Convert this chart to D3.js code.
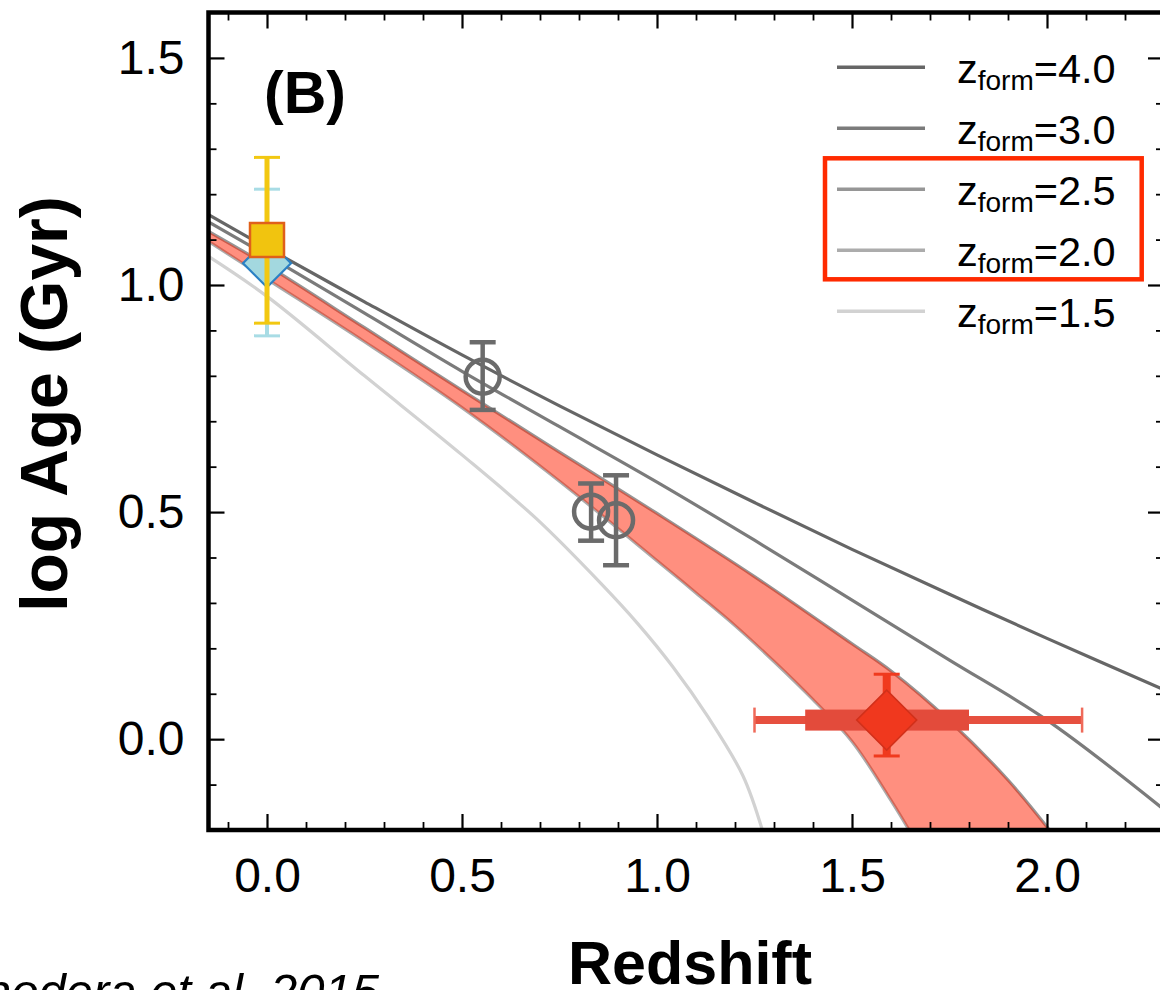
<!DOCTYPE html>
<html><head><meta charset="utf-8">
<script src="https://cdn.jsdelivr.net/npm/d3@7"></script>
<style>body{margin:0;background:#fff;} svg{display:block;font-family:"Liberation Sans",Arial,Helvetica,sans-serif;}</style>
</head><body><svg id="c" width="1160" height="990"></svg>
<script>
// ---------- data ----------
const zformLabels = ["4.0", "3.0", "2.5", "2.0", "1.5"];
const curveZ40 = [[-0.15,1.155],[0,1.082],[0.25,0.963],[0.5,0.846],[0.75,0.734],[1.0,0.626],[1.25,0.521],[1.5,0.418],[1.75,0.319],[2.0,0.222],[2.3,0.109]];
const curveZ30 = [[-0.15,1.139],[0,1.065],[0.25,0.938],[0.5,0.81],[0.75,0.688],[1.0,0.566],[1.25,0.438],[1.5,0.306],[1.75,0.174],[2.0,0.042],[2.3,-0.155]];
const curveZ25 = [[-0.15,1.118],[0,1.043],[0.25,0.906],[0.5,0.768],[0.75,0.632],[1.0,0.497],[1.25,0.358],[1.5,0.21],[1.6,0.15],[1.75,0.04],[1.9,-0.09],[2.02,-0.215]];
const curveZ20 = [[-0.15,1.096],[0,1.013],[0.25,0.875],[0.5,0.73],[0.75,0.568],[1.0,0.393],[1.1,0.322],[1.2,0.25],[1.3,0.171],[1.4,0.087],[1.5,-0.005],[1.6,-0.135],[1.66,-0.22]];
const curveZ15 = [[-0.15,1.063],[0,0.975],[0.25,0.80],[0.5,0.626],[0.69,0.486],[0.856,0.343],[0.95,0.255],[1.04,0.16],[1.13,0.05],[1.22,-0.08],[1.27,-0.2]];

const grayZ = [0.553, 0.831, 0.895];
const grayAge = [0.798, 0.501, 0.482];
const grayLo = [0.725, 0.437, 0.383];
const grayHi = [0.874, 0.563, 0.581];

const squarePt = {z: 0.0, age: 1.099, lo: 0.916, hi: 1.281};
const cyanPt = {z: 0.0, age: 1.048, lo: 0.888, hi: 1.211};
const redPt = {z: 1.589, age: 0.042, lo: -0.037, hi: 0.143, zlo: 1.25, zhi: 2.09, zlo2: 1.38, zhi2: 1.80};

const xMajor = [0.0, 0.5, 1.0, 1.5, 2.0];
const yMajor = [0.0, 0.5, 1.0, 1.5];

// ---------- setup ----------
const svg = d3.select("#c");
const x = d3.scaleLinear().domain([-0.15, 2.3]).range([208.5, 1164]);
const y = d3.scaleLinear().domain([-0.2, 1.6]).range([830, 12.5]);
const lineColors = ["#666666", "#7b7b7b", "#969696", "#acacac", "#d2d2d2"];
const curves = [curveZ40, curveZ30, curveZ25, curveZ20, curveZ15];

svg.append("defs").append("clipPath").attr("id", "clip")
  .append("rect").attr("x", x(-0.15)).attr("y", y(1.6))
  .attr("width", x(2.3) - x(-0.15)).attr("height", y(-0.2) - y(1.6));

const plot = svg.append("g");
const clipped = plot.append("g").attr("clip-path", "url(#clip)");
const line = d3.line().x(d => x(d[0])).y(d => y(d[1])).curve(d3.curveCatmullRom.alpha(0.5));

// model lines
curves.forEach((c, i) => {
  clipped.append("path").attr("d", line(c)).attr("fill", "none")
    .attr("stroke", lineColors[i]).attr("stroke-width", 3.2);
});

function errV(g, zx, lo, hi, color, w, capW, capT) {
  g.append("line").attr("x1", x(zx)).attr("x2", x(zx)).attr("y1", y(lo)).attr("y2", y(hi))
    .attr("stroke", color).attr("stroke-width", w);
  [lo, hi].forEach(v => g.append("line").attr("x1", x(zx) - capW / 2).attr("x2", x(zx) + capW / 2)
    .attr("y1", y(v)).attr("y2", y(v)).attr("stroke", color).attr("stroke-width", capT));
}

// gray circles
grayZ.forEach((z, i) => {
  errV(plot, z, grayLo[i], grayHi[i], "#6b6b6b", 4.5, 26, 4.5);
  plot.append("circle").attr("cx", x(z)).attr("cy", y(grayAge[i])).attr("r", 17)
    .attr("fill", "none").attr("stroke", "#6b6b6b").attr("stroke-width", 4.5);
});

// cyan diamond
errV(plot, cyanPt.z, cyanPt.lo, cyanPt.hi, "#a8dce5", 4, 26, 3);
plot.append("path").attr("d", d3.symbol(d3.symbolSquare, 1156)())
  .attr("transform", `translate(${x(cyanPt.z)},${y(cyanPt.age)}) rotate(45)`)
  .attr("fill", "#a3d8df").attr("stroke", "#2a80c4").attr("stroke-width", 2.2);

// red point: horizontal bars (under band)
const rg = plot.append("g");
rg.append("line").attr("x1", x(redPt.zlo)).attr("x2", x(redPt.zhi)).attr("y1", y(redPt.age)).attr("y2", y(redPt.age))
  .attr("stroke", "#e6503f").attr("stroke-width", 8);
[redPt.zlo, redPt.zhi].forEach(v => rg.append("line").attr("x1", x(v)).attr("x2", x(v))
  .attr("y1", y(redPt.age) - 12.5).attr("y2", y(redPt.age) + 12.5).attr("stroke", "#ef6a5a").attr("stroke-width", 2.5));
rg.append("rect").attr("x", x(redPt.zlo2)).attr("y", y(redPt.age) - 10.5)
  .attr("width", x(redPt.zhi2) - x(redPt.zlo2)).attr("height", 21).attr("fill", "#e34b3b");

// band between zform=2.5 and zform=2.0
const upper = line(curveZ25);
const lower = line(curveZ20.slice().reverse());
clipped.append("path").attr("d", upper + "L" + lower.slice(1) + "Z")
  .attr("fill", "rgba(255,31,0,0.5)").attr("stroke", "none");

// red point: vertical bar and diamond
const rg2 = plot.append("g");
errV(rg2, redPt.z, redPt.lo, redPt.hi, "#f03a1e", 8, 26, 3);
rg2.append("path").attr("d", d3.symbol(d3.symbolSquare, 1800)())
  .attr("transform", `translate(${x(redPt.z)},${y(redPt.age)}) rotate(45)`)
  .attr("fill", "#f0381e").attr("stroke", "#d2301a").attr("stroke-width", 1.6);

// yellow square
errV(plot, squarePt.z, squarePt.lo, squarePt.hi, "#f2c811", 5, 26, 3);
plot.append("path").attr("d", d3.symbol(d3.symbolSquare, 1156)())
  .attr("transform", `translate(${x(squarePt.z)},${y(squarePt.age)})`)
  .attr("fill", "#f1c40f").attr("stroke", "#e0601a").attr("stroke-width", 2.5);

// ---------- axes ----------
const fmt = d3.format(".1f");
const xMinor = d3.range(-1, 24).map(i => i / 10).filter(v => !xMajor.some(m => Math.abs(m - v) < 1e-6));
const yMinor = d3.range(-2, 17).map(i => i / 10).filter(v => !yMajor.some(m => Math.abs(m - v) < 1e-6));

function styleAxis(g, w) {
  g.select(".domain").remove();
  g.selectAll(".tick line").attr("stroke", "#000").attr("stroke-width", w);
}
const fontTick = 48;
// bottom
svg.append("g").attr("transform", `translate(0,${y(-0.2)})`)
  .call(d3.axisBottom(x).tickValues(xMajor).tickSize(-16).tickPadding(28).tickFormat(fmt))
  .call(g => styleAxis(g, 2.2))
  .call(g => g.selectAll("text").attr("font-size", fontTick).attr("fill", "#000").attr("font-family", "Liberation Sans, Arial, sans-serif"));
svg.append("g").attr("transform", `translate(0,${y(-0.2)})`)
  .call(d3.axisBottom(x).tickValues(xMinor).tickSize(-8).tickFormat(""))
  .call(g => styleAxis(g, 1.8));
// top
svg.append("g").attr("transform", `translate(0,${y(1.6)})`)
  .call(d3.axisTop(x).tickValues(xMajor).tickSize(-16).tickFormat(""))
  .call(g => styleAxis(g, 2.2));
svg.append("g").attr("transform", `translate(0,${y(1.6)})`)
  .call(d3.axisTop(x).tickValues(xMinor).tickSize(-8).tickFormat(""))
  .call(g => styleAxis(g, 1.8));
// left
svg.append("g").attr("transform", `translate(${x(-0.15)},0)`)
  .call(d3.axisLeft(y).tickValues(yMajor).tickSize(-16).tickPadding(24).tickFormat(fmt))
  .call(g => styleAxis(g, 2.2))
  .call(g => g.selectAll("text").attr("font-size", fontTick).attr("fill", "#000").attr("font-family", "Liberation Sans, Arial, sans-serif"));
svg.append("g").attr("transform", `translate(${x(-0.15)},0)`)
  .call(d3.axisLeft(y).tickValues(yMinor).tickSize(-8).tickFormat(""))
  .call(g => styleAxis(g, 1.8));
// right
svg.append("g").attr("transform", `translate(${x(2.3)},0)`)
  .call(d3.axisRight(y).tickValues(yMajor).tickSize(-16).tickFormat(""))
  .call(g => styleAxis(g, 2.2));
svg.append("g").attr("transform", `translate(${x(2.3)},0)`)
  .call(d3.axisRight(y).tickValues(yMinor).tickSize(-8).tickFormat(""))
  .call(g => styleAxis(g, 1.8));

// frame
svg.append("rect").attr("x", x(-0.15)).attr("y", y(1.6))
  .attr("width", x(2.3) - x(-0.15)).attr("height", y(-0.2) - y(1.6))
  .attr("fill", "none").attr("stroke", "#000").attr("stroke-width", 4.5);

// ---------- labels ----------
svg.append("text").attr("x", 264).attr("y", 113).attr("font-size", 59).attr("font-weight", "bold").text("(B)");
svg.append("text").attr("transform", "translate(67,404) rotate(-90)").attr("text-anchor", "middle")
  .attr("font-size", 66).attr("font-weight", "bold").text("log Age (Gyr)");
svg.append("text").attr("x", 690).attr("y", 984).attr("text-anchor", "middle")
  .attr("font-size", 61).attr("font-weight", "bold").text("Redshift");
svg.append("text").attr("x", 379).attr("y", 1008).attr("text-anchor", "end")
  .attr("font-size", 49).attr("font-style", "italic").text("Onodera et al. 2015");

// ---------- legend ----------
const leg = svg.append("g");
zformLabels.forEach((lab, i) => {
  const ly = 67.3 + i * 61;
  leg.append("line").attr("x1", 837).attr("x2", 925).attr("y1", ly).attr("y2", ly)
    .attr("stroke", lineColors[i]).attr("stroke-width", 3.5);
  const t = leg.append("text").attr("x", 957).attr("y", ly + 16).attr("font-size", 41.5).attr("fill", "#000");
  t.append("tspan").text("z");
  t.append("tspan").attr("font-size", 28).attr("dy", 7).text("form");
  t.append("tspan").attr("dy", -7).text("=" + lab);
});
leg.append("rect").attr("x", 825).attr("y", 158.3).attr("width", 316.7).attr("height", 121)
  .attr("fill", "none").attr("stroke", "#ff2a00").attr("stroke-width", 4.5);
</script></body></html>
